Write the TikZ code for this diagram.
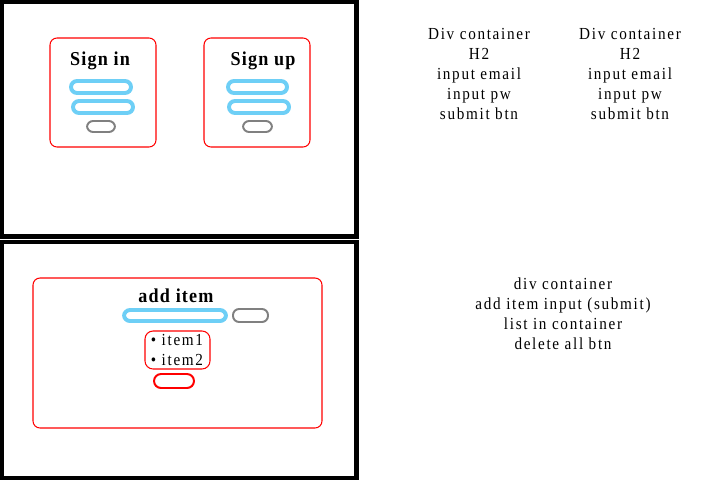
\documentclass[tikz,border=0pt]{standalone}
\usepackage{fontspec}
\setmainfont{Liberation Serif}
\definecolor{fieldblue}{RGB}{110,207,246}
\definecolor{btngray}{RGB}{128,128,128}
\tikzset{
  panel/.style={draw=black, line width=3.2pt},
  card/.style={draw=red, line width=0.75pt, rounded corners=5pt},
  field/.style={draw=fieldblue, line width=2.8pt, rounded corners=4.3pt},
  btn/.style={draw=btngray, line width=1.4pt, rounded corners=4.3pt},
  delbtn/.style={draw=red, line width=1.4pt, rounded corners=5pt},
  heading/.style={inner sep=0pt, font=\fontsize{14pt}{16pt}\selectfont\bfseries\addfontfeatures{FakeStretch=0.92,LetterSpace=6}},
  note/.style={inner sep=0pt, align=center, font=\fontsize{12pt}{14.2pt}\selectfont\addfontfeatures{FakeStretch=0.9,LetterSpace=10}}
}
\begin{document}
\begin{tikzpicture}[x=0.025cm, y=-0.025cm]
    \useasboundingbox (0,0) rectangle (720,480);
    % two screens, black frames
    \draw[panel] (2.2,1.8) rectangle (356.7,236.5);
    \draw[panel] (2.2,242.2) rectangle (356.7,477.8);
    % sign in card
    \draw[card] (50,38) rectangle (156,147);
    \node[heading] (signin) at (100,61) {Sign in};
    \draw[field] (71,81) rectangle (131,93);
    \draw[field] (73,101) rectangle (133,113);
    \draw[btn] (87,121) rectangle (115,132);
    % sign up card
    \draw[card] (204,38) rectangle (310,147);
    \node[heading] (signup) at (263,61) {Sign up};
    \draw[field] (228,81) rectangle (287,93);
    \draw[field] (229,101) rectangle (289,113);
    \draw[btn] (243,121) rectangle (272,132);
    % todo list card
    \draw[card] (33,278) rectangle (322,428);
    \node[heading] (additem) at (176,296) {add item};
    \draw[field] (124,310) rectangle (226,321);
    \draw[btn] (233,309) rectangle (268,322);
    \draw[card, rounded corners=5.7pt] (145,331) rectangle (210,369);
    \node[note, align=left] (items) at (177,350) {\textbullet{} item1\\[0pt]\textbullet{} item2};
    \draw[delbtn] (154,374) rectangle (194,388);
    % notes on the right
    \node[note] (signinnote) at (479,74) {Div container\\H2\\input email\\input pw\\submit btn};
    \node[note] (signupnote) at (630,74) {Div container\\H2\\input email\\input pw\\submit btn};
    \node[note] (listnote) at (563,314) {div container\\add item input (submit)\\list in container\\delete all btn};
\end{tikzpicture}
\end{document}
